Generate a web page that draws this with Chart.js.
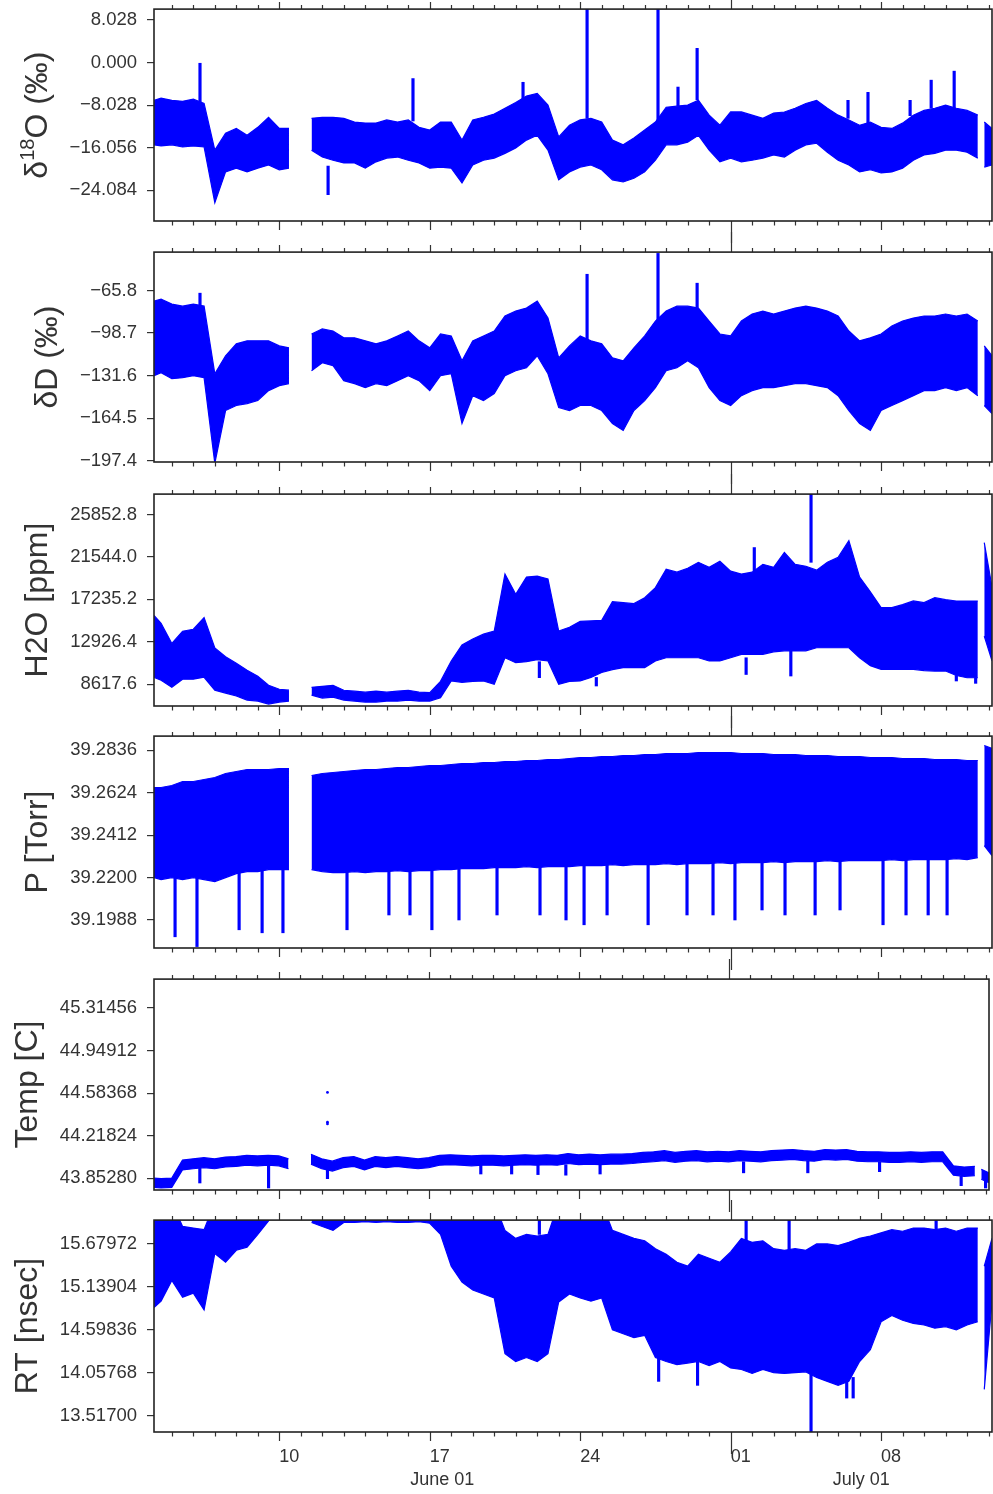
<!DOCTYPE html>
<html>
<head>
<meta charset="utf-8">
<script src="https://cdn.jsdelivr.net/npm/chart.js@4.4.1/dist/chart.umd.min.js"></script>
<style>
  html, body { margin: 0; padding: 0; background: #fff; }
  #figure { position: relative; width: 993px; height: 1494px; overflow: hidden; background: #fff; }
  #figure canvas { position: absolute; left: 0; }
</style>
</head>
<body>
<div id="figure"></div>
<script>
// ============ DATA ============
// time axis in days of June (June 10 = 10, July 1 = 31, July 8 = 38)
const X_MIN = 4.17;
const X_MAX = 43.16;
const weekTicks = [10, 17, 24, 31, 38];
const weekLabels = ["10", "17", "24", "01", "08"];
const monthStarts = [1, 31, 62];
const monthLabels = ["June 01", "July 01"];

// sample times of the upper / lower envelope of the dense point cloud (null = no data)
const days = [4.17, 4.5, 5, 5.5, 6, 6.5, 7, 7.5, 8, 8.5, 9, 9.5, 10,
  10.45, 10.9, 11.5,
  12, 12.5, 13, 13.5, 14, 14.5, 15, 15.5, 16, 16.5,
  17, 17.5, 18, 18.5, 19, 19.5, 20, 20.5, 21, 21.5,
  22, 22.5, 23, 23.5, 24, 24.5, 25, 25.5, 26, 26.5,
  27, 27.5, 28, 28.5, 29, 29.5, 30, 30.5, 31, 31.5,
  32, 32.5, 33, 33.5, 34, 34.5, 35, 35.5, 36, 36.5,
  37, 37.5, 38, 38.5, 39, 39.5, 40, 40.5, 41, 41.5,
  42, 42.5,
  42.65, 42.8, 43.16];

// d18O (permil)
const o18Ticks = [-24.084, -16.056, -8.028, 0, 8.028];
const o18Hi = [-7.1, -6.7, -7.1, -7.3, -6.9, -7.7, -16.5, -13.3, -12.4, -13.7, -12.2, -10.3, -12.4,
  -12.4, null, -10.5,
  -10.3, -10.3, -10.5, -11.2, -11.4, -11.4, -10.8, -11.2, -10.8, -12.2,
  -12.7, -11.2, -11.2, -14.6, -10.8, -10.3, -9.7, -8.6, -7.5, -6.3,
  -5.8, -8.0, -14.0, -11.8, -10.8, -10.5, -11.2, -14.6, -15.5, -14.2,
  -12.7, -11.2, -8.4, -8.2, -8.0, -7.1, -9.9, -11.8, -9.3, -9.3,
  -9.9, -10.5, -9.5, -9.3, -8.6, -7.7, -7.1, -8.6, -9.9, -10.8,
  -11.8, -11.2, -12.2, -12.4, -11.4, -9.9, -9.0, -8.6, -8.0, -8.6,
  -9.0, -9.9,
  null, -11.2, -12.4];
const o18Lo = [-15.5, -15.7, -15.5, -15.9, -15.7, -15.9, -26.4, -20.6, -19.9, -20.6, -19.9, -19.3, -20.2,
  -19.9, null, -16.5,
  -17.8, -18.4, -18.9, -18.9, -19.9, -18.7, -18.0, -17.8, -18.4, -18.9,
  -19.9, -19.7, -19.9, -22.7, -19.3, -18.4, -18.0, -17.1, -16.1, -14.6,
  -13.7, -16.5, -22.1, -20.6, -19.7, -19.3, -20.2, -22.1, -22.5, -21.8,
  -20.6, -18.4, -15.5, -15.5, -15.0, -13.7, -16.5, -18.7, -18.0, -18.7,
  -18.4, -18.0, -17.4, -17.8, -16.5, -15.5, -15.2, -16.9, -18.4, -19.3,
  -20.6, -20.2, -20.8, -20.6, -19.9, -18.4, -17.4, -17.1, -16.5, -16.5,
  -16.9, -18.0,
  null, -19.7, -19.3];
const o18SpikeDays = [6.31, 12.27, 16.22, 21.34, 24.32, 27.62, 28.55, 29.44, 36.46, 37.39, 39.35, 40.33, 41.40];
const o18SpikeBase = [-7.5, -19.5, -11.0, -7.0, -10.5, -11.0, -8.2, -7.0, -10.5, -11.5, -10.0, -8.6, -8.6];
const o18SpikeTip = [0.0, -24.9, -3.0, -3.7, 12.0, 12.0, -4.6, 2.7, -7.1, -5.6, -7.1, -3.3, -1.6];

// dD (permil)
const dTicks = [-197.4, -164.5, -131.6, -98.7, -65.8];
const dHi = [-74.0, -72.5, -76.3, -77.9, -76.3, -77.9, -130.1, -116.2, -107.0, -104.7, -104.7, -104.7, -108.6,
  -110.1, null, -99.4,
  -95.5, -97.1, -102.4, -102.4, -104.7, -107.0, -104.7, -100.9, -97.1, -104.7,
  -110.1, -99.4, -100.9, -120.1, -104.7, -100.9, -97.1, -85.5, -81.7, -79.4,
  -74.0, -87.1, -117.8, -108.6, -100.9, -104.7, -107.0, -117.8, -120.1, -110.1,
  -100.9, -89.4, -81.7, -77.9, -77.9, -79.4, -89.4, -99.4, -100.9, -89.4,
  -84.0, -81.7, -84.0, -81.7, -79.4, -77.9, -79.4, -81.7, -85.5, -97.1,
  -104.7, -102.4, -99.4, -93.2, -89.4, -87.1, -85.5, -85.5, -84.0, -85.5,
  -84.0, -89.4,
  null, -108.6, -116.2];
const dLo = [-131.6, -129.3, -133.9, -133.1, -131.6, -133.1, -199.2, -158.5, -154.6, -153.1, -150.8, -143.1, -139.3,
  -137.7, null, -127.8,
  -121.6, -123.9, -135.4, -137.7, -140.8, -137.7, -139.3, -135.4, -131.6, -135.4,
  -143.1, -131.6, -130.1, -168.5, -147.0, -150.8, -145.4, -131.6, -127.8, -125.5,
  -116.2, -130.1, -156.2, -158.5, -154.6, -154.6, -158.5, -168.5, -173.9, -158.5,
  -150.8, -140.8, -127.8, -125.5, -120.1, -125.5, -140.8, -150.8, -154.6, -147.0,
  -143.1, -140.8, -140.8, -139.3, -137.7, -137.7, -139.3, -140.8, -147.0, -158.5,
  -168.5, -173.9, -158.5, -154.6, -150.8, -147.0, -143.1, -143.1, -140.8, -143.1,
  -140.8, -147.0,
  null, -154.6, -160.8];
const dSpikeDays = [6.31, 24.32, 27.62, 29.44];
const dSpikeBase = [-77.0, -104.0, -90.0, -79.0];
const dSpikeTip = [-67.9, -53.3, -37.2, -60.2];

// H2O (ppm)
const h2oTicks = [8617.6, 12926.4, 17235.2, 21544.0, 25852.8];
const h2oHi = [15600, 14800, 12750, 14000, 14200, 15380, 12300, 11400, 10740, 10030, 9420, 8510, 8100,
  8010, null, 8300,
  8400, 8500, 8000, 7900, 7800, 7900, 7800, 7900, 8000, 7800,
  7750, 8900, 10970, 12600, 13200, 13700, 14020, 19800, 17750, 19500,
  19600, 19300, 14020, 14400, 15000, 15040, 15100, 17000, 16900, 16800,
  17400, 18430, 20300, 20000, 20400, 21000, 20500, 21100, 20100, 19800,
  20000, 20800, 20500, 22000, 20800, 20600, 20200, 21000, 21500, 23200,
  19500, 18000, 16400, 16400, 16700, 17070, 16900, 17400, 17200, 17070,
  17070, 17070,
  null, 23000, 18500];
const h2oLo = [9320, 9020, 8310, 9120, 9120, 9320, 8010, 7710, 7410, 7000, 6900, 6600, 6800,
  6900, null, 7500,
  7200, 7300, 7000, 6900, 6800, 6800, 6900, 6900, 7000, 6900,
  6900, 7240, 8940, 8800, 8900, 8940, 8600, 11300, 10800, 10900,
  11100, 10970, 8600, 8900, 8940, 9300, 9800, 10100, 10290, 10300,
  10300, 10970, 11300, 11300, 11300, 11300, 10970, 10970, 11300, 11650,
  11650, 11650, 11900, 12000, 11990, 12000, 12320, 12320, 12320, 12320,
  11300, 10500, 10120, 10120, 10120, 10120, 10000, 9950, 9950, 9500,
  9270, 9270,
  null, 13500, 11000];
const h2oSpikeDays = [34.74, 32.10, 22.10, 24.75, 31.72, 33.80, 41.50, 42.40];
const h2oSpikeBase = [21000, 20000, 10900, 9300, 11300, 12000, 9500, 9270];
const h2oSpikeTip = [28500, 22500, 9275, 8430, 9600, 9445, 8940, 8700];

// cavity pressure (Torr)
const pTicks = [39.1988, 39.2200, 39.2412, 39.2624, 39.2836];
const pHi = [39.2650, 39.2650, 39.2660, 39.2680, 39.2680, 39.2690, 39.2700, 39.2720, 39.2730, 39.2740, 39.2740, 39.2740, 39.2745,
  39.2745, null, 39.2710,
  39.2720, 39.2725, 39.2730, 39.2735, 39.2740, 39.2740, 39.2745, 39.2750, 39.2750, 39.2755,
  39.2760, 39.2760, 39.2765, 39.2770, 39.2770, 39.2775, 39.2775, 39.2780, 39.2780, 39.2785,
  39.2785, 39.2790, 39.2790, 39.2795, 39.2800, 39.2800, 39.2805, 39.2805, 39.2810, 39.2810,
  39.2815, 39.2815, 39.2820, 39.2820, 39.2820, 39.2825, 39.2825, 39.2825, 39.2825, 39.2820,
  39.2820, 39.2820, 39.2815, 39.2815, 39.2815, 39.2810, 39.2810, 39.2810, 39.2805, 39.2805,
  39.2805, 39.2800, 39.2800, 39.2800, 39.2795, 39.2795, 39.2795, 39.2790, 39.2790, 39.2790,
  39.2785, 39.2785,
  null, 39.2860, 39.2845];
const pLo = [39.2200, 39.2190, 39.2200, 39.2190, 39.2200, 39.2190, 39.2180, 39.2200, 39.2220, 39.2230, 39.2230, 39.2240, 39.2240,
  39.2240, null, 39.2240,
  39.2230, 39.2225, 39.2225, 39.2230, 39.2225, 39.2230, 39.2230, 39.2235, 39.2230, 39.2235,
  39.2235, 39.2240, 39.2240, 39.2245, 39.2245, 39.2245, 39.2250, 39.2250, 39.2250, 39.2255,
  39.2250, 39.2255, 39.2255, 39.2255, 39.2260, 39.2260, 39.2260, 39.2265, 39.2260, 39.2265,
  39.2265, 39.2265, 39.2270, 39.2265, 39.2270, 39.2270, 39.2270, 39.2275, 39.2270, 39.2275,
  39.2275, 39.2275, 39.2280, 39.2275, 39.2280, 39.2280, 39.2280, 39.2285, 39.2280, 39.2285,
  39.2285, 39.2285, 39.2285, 39.2290, 39.2285, 39.2290, 39.2290, 39.2290, 39.2290, 39.2295,
  39.2290, 39.2300,
  null, 39.2360, 39.2310];
const pSpikeDays = [5.15, 6.17, 8.13, 9.20, 10.17, 13.15, 15.10, 16.08, 17.10, 18.36, 20.13, 22.13, 23.34, 24.18,
  25.25, 27.16, 28.97, 30.18, 31.20, 32.46, 33.53, 34.93, 36.09, 38.09, 39.16, 40.19, 41.07];
const pSpikeBase = [39.2210, 39.2210, 39.2230, 39.2240, 39.2240, 39.2240, 39.2245, 39.2245, 39.2250, 39.2255, 39.2260, 39.2260, 39.2265, 39.2270,
  39.2270, 39.2275, 39.2280, 39.2280, 39.2280, 39.2285, 39.2285, 39.2290, 39.2290, 39.2295, 39.2295, 39.2300, 39.2300];
const pSpikeTip = [39.1904, 39.1855, 39.1939, 39.1924, 39.1924, 39.1939, 39.2013, 39.2013, 39.1939, 39.1988, 39.2013, 39.2013, 39.1988, 39.1964,
  39.2013, 39.1964, 39.2013, 39.2013, 39.1988, 39.2038, 39.2013, 39.2013, 39.2038, 39.1964, 39.2013, 39.2013, 39.2013];

// cavity temperature (C)
const tTicks = [43.8528, 44.21824, 44.58368, 44.94912, 45.31456];
const tHi = [43.855, 43.850, 43.855, 44.010, 44.020, 44.030, 44.020, 44.035, 44.040, 44.050, 44.045, 44.050, 44.045,
  44.020, null, 44.060,
  44.020, 44.000, 44.030, 44.040, 44.010, 44.040, 44.030, 44.040, 44.030, 44.020,
  44.030, 44.050, 44.055, 44.050, 44.045, 44.050, 44.050, 44.045, 44.050, 44.055,
  44.050, 44.055, 44.050, 44.065, 44.055, 44.060, 44.055, 44.060, 44.060, 44.065,
  44.075, 44.080, 44.090, 44.075, 44.085, 44.090, 44.080, 44.085, 44.080, 44.090,
  44.085, 44.080, 44.090, 44.095, 44.100, 44.090, 44.085, 44.100, 44.095, 44.100,
  44.085, 44.080, 44.080, 44.075, 44.075, 44.080, 44.075, 44.080, 44.080, 43.960,
  43.950, 43.955,
  null, 43.930, 43.900];
const tLo = [43.775, 43.770, 43.775, 43.925, 43.935, 43.945, 43.935, 43.950, 43.955, 43.965, 43.960, 43.965, 43.960,
  43.935, null, 43.975,
  43.935, 43.915, 43.945, 43.955, 43.925, 43.955, 43.945, 43.955, 43.945, 43.935,
  43.945, 43.965, 43.970, 43.965, 43.960, 43.965, 43.965, 43.960, 43.965, 43.970,
  43.965, 43.970, 43.965, 43.980, 43.970, 43.975, 43.970, 43.975, 43.975, 43.980,
  43.990, 43.995, 44.005, 43.990, 44.000, 44.005, 43.995, 44.000, 43.995, 44.005,
  44.000, 43.995, 44.005, 44.010, 44.015, 44.005, 44.000, 44.015, 44.010, 44.015,
  44.000, 43.995, 43.995, 43.990, 43.990, 43.995, 43.990, 43.995, 43.995, 43.880,
  43.870, 43.875,
  null, 43.845, 43.815];
const tSpikeDays = [6.31, 9.52, 12.27, 19.43, 20.87, 22.10, 23.40, 25.00, 31.70, 34.70, 38.05, 41.86, 43.00];
const tSpikeBase = [43.950, 43.960, 43.930, 43.965, 43.965, 43.965, 43.970, 43.970, 43.995, 44.000, 43.990, 43.870, 43.830];
const tSpikeTip = [43.813, 43.770, 43.850, 43.890, 43.890, 43.885, 43.880, 43.890, 43.900, 43.900, 43.910, 43.790, 43.770];
const tOutlierDays = [12.27, 12.27, 12.27];
const tOutlierVals = [44.590, 44.335, 44.320];

// ring-down time (nsec)
const rtTicks = [13.517, 14.05768, 14.59836, 15.13904, 15.67972];
const rtHi = [16.2, 16.2, 16.2, 15.90, 15.88, 15.86, 16.2, 16.2, 16.2, 16.2, 16.2, 16.2, 16.2,
  16.2, null, 16.2,
  16.2, 16.2, 16.2, 16.2, 16.2, 16.2, 16.2, 16.2, 16.2, 16.2,
  16.2, 16.2, 16.2, 16.2, 16.2, 16.2, 16.2, 15.85, 15.75, 15.80,
  15.78, 15.80, 16.2, 16.2, 16.2, 16.2, 16.2, 15.85, 15.80, 15.75,
  15.72, 15.62, 15.55, 15.45, 15.40, 15.55, 15.50, 15.45, 15.58, 15.75,
  15.70, 15.72, 15.62, 15.60, 15.62, 15.60, 15.68, 15.68, 15.66, 15.70,
  15.75, 15.78, 15.82, 15.86, 15.84, 15.88, 15.88, 15.86, 15.88, 15.84,
  15.88, 15.88,
  null, 15.40, 15.75];
const rtLo = [14.88, 14.96, 15.22, 15.01, 15.06, 14.85, 15.56, 15.45, 15.60, 15.64, 15.80, 15.97, 16.1,
  16.1, null, 15.95,
  15.90, 15.85, 15.95, 15.95, 15.96, 15.95, 15.96, 15.95, 15.95, 15.96,
  15.94, 15.80, 15.40, 15.20, 15.10, 15.05, 15.00, 14.30, 14.20, 14.25,
  14.20, 14.30, 14.95, 15.05, 15.00, 14.96, 15.00, 14.60, 14.55, 14.50,
  14.53, 14.25, 14.20, 14.16, 14.18, 14.20, 14.15, 14.20, 14.12, 14.10,
  14.05, 14.10, 14.06, 14.05, 14.06, 14.07, 14.00, 13.95, 13.90, 13.95,
  14.20, 14.35, 14.70, 14.78, 14.72, 14.68, 14.66, 14.62, 14.64, 14.60,
  14.66, 14.70,
  null, 13.85, 14.95];
const rtSpikeDays = [34.74, 36.40, 36.70, 27.65, 29.46, 31.72, 33.72, 40.56, 22.10];
const rtSpikeBase = [14.10, 14.00, 14.00, 14.30, 14.20, 15.60, 15.60, 15.85, 15.80];
const rtSpikeTip = [13.20, 13.74, 13.74, 13.95, 13.90, 16.20, 16.20, 16.20, 16.20];

// ============ STYLE ============
const FONT = '"Liberation Sans", Arial, Helvetica, sans-serif';
const INK = "#333";
const BLUE = "#0000ff";

Chart.defaults.font.family = FONT;
Chart.defaults.color = INK;

const PANELS = [
  { title: [{ text: "δ" }, { text: "18", sup: true }, { text: "O (‰)" }], hi: o18Hi, lo: o18Lo, ticks: o18Ticks, digits: 3,
    min: -29.86, max: 10.1, spikes: [o18SpikeDays, o18SpikeBase, o18SpikeTip], top: 8, height: 213 },
  { title: [{ text: "δD (‰)" }], hi: dHi, lo: dLo, ticks: dTicks, digits: 1,
    min: -198.2, max: -36.2, spikes: [dSpikeDays, dSpikeBase, dSpikeTip], top: 251, height: 211 },
  { title: [{ text: "H2O [ppm]" }], hi: h2oHi, lo: h2oLo, ticks: h2oTicks, digits: 1,
    min: 6398, max: 27932, spikes: [h2oSpikeDays, h2oSpikeBase, h2oSpikeTip], top: 493, height: 213 },
  { title: [{ text: "P [Torr]" }], hi: pHi, lo: pLo, ticks: pTicks, digits: 4,
    min: 39.1848, max: 39.2907, spikes: [pSpikeDays, pSpikeBase, pSpikeTip], top: 735, height: 213 },
  { title: [{ text: "Temp [C]" }], hi: tHi, lo: tLo, ticks: tTicks, digits: 5,
    min: 43.7528, max: 45.5625, spikes: [tSpikeDays, tSpikeBase, tSpikeTip], outliers: [tOutlierDays, tOutlierVals], top: 978, height: 212 },
  { title: [{ text: "RT [nsec]" }], hi: rtHi, lo: rtLo, ticks: rtTicks, digits: 5,
    min: 13.313, max: 15.98, spikes: [rtSpikeDays, rtSpikeBase, rtSpikeTip], top: 1219, height: 213 }
];

// ============ UTILS ============
function fmt(v, digits) {
  return (v < 0 ? "\u2212" : "") + Math.abs(v).toFixed(digits);
}

function drawTitle(ctx, parts, xBase, yMid) {
  const big = "32px " + FONT, small = "20px " + FONT;
  const widths = parts.map(p => { ctx.font = p.sup ? small : big; return ctx.measureText(p.text).width; });
  const total = widths.reduce((s, w) => s + w, 0);
  ctx.save();
  ctx.translate(xBase, yMid);
  ctx.rotate(-Math.PI / 2);
  ctx.fillStyle = INK;
  ctx.textAlign = "left";
  ctx.textBaseline = "alphabetic";
  let cx = -total / 2;
  parts.forEach((p, i) => {
    ctx.font = p.sup ? small : big;
    ctx.fillText(p.text, cx, p.sup ? -13 : 0);
    cx += widths[i];
  });
  ctx.restore();
}

// frame, day ticks top and bottom, y title, month labels
const framePlugin = {
  id: "frame",
  afterDraw(chart, args, opts) {
    const { ctx, chartArea: a, scales: { x, y } } = chart;
    ctx.save();

    ctx.font = "18.5px " + FONT;
    const maxW = Math.max(...y.ticks.map(t => ctx.measureText(t.label).width));
    drawTitle(ctx, opts.title, a.left - 7 - 10 - maxW - 23, (a.top + a.bottom) / 2);

    ctx.strokeStyle = INK;
    ctx.lineWidth = 1.2;
    for (let d = Math.ceil(x.min); d <= x.max; d++) {
      const px = Math.round(x.getPixelForValue(d)) + 0.5;
      const isMonth = monthStarts.includes(d), isWeek = weekTicks.includes(d);
      const down = isMonth ? 22 : isWeek ? 9 : 4.5;
      const up = isMonth ? 20 : isWeek ? 7 : 4;
      ctx.beginPath();
      ctx.moveTo(px, a.bottom); ctx.lineTo(px, a.bottom + down);
      ctx.moveTo(px, a.top); ctx.lineTo(px, a.top - up);
      ctx.stroke();
    }

    ctx.strokeStyle = "#222";
    ctx.lineWidth = 1.6;
    ctx.strokeRect(a.left, a.top, a.right - a.left, a.bottom - a.top);

    if (opts.months) {
      ctx.font = "18px " + FONT;
      ctx.fillStyle = INK;
      ctx.textAlign = "center";
      ctx.textBaseline = "middle";
      monthLabels.forEach((lab, i) => {
        const lo = Math.max(x.min, monthStarts[i]), hi = Math.min(x.max, monthStarts[i + 1]);
        if (hi > lo) ctx.fillText(lab, x.getPixelForValue((lo + hi) / 2), a.bottom + 48);
      });
    }
    ctx.restore();
  }
};

// ============ RENDER ============
const fig = document.getElementById("figure");

PANELS.forEach((p, i) => {
  const last = i === PANELS.length - 1;
  const padTop = 20;
  const axisH = last ? 52 : 0;
  const padBottom = last ? 1494 - (p.top + p.height) - axisH : 30;

  const cv = document.createElement("canvas");
  cv.width = 993;
  cv.height = padTop + p.height + axisH + padBottom;
  cv.style.top = (p.top - padTop) + "px";
  fig.appendChild(cv);

  const datasets = [
    { type: "line", data: days.map((d, k) => ({ x: d, y: p.lo[k] })), borderColor: BLUE, borderWidth: 1.2,
      pointRadius: 0, fill: false, spanGaps: false, tension: 0 },
    { type: "line", data: days.map((d, k) => ({ x: d, y: p.hi[k] })), borderColor: BLUE, borderWidth: 1.2,
      backgroundColor: BLUE, pointRadius: 0, fill: "-1", spanGaps: false, tension: 0 },
    { type: "bar", data: p.spikes[0].map((d, k) => ({ x: d, y: [p.spikes[1][k], p.spikes[2][k]] })),
      backgroundColor: BLUE, borderWidth: 0, barThickness: 2.5, grouped: false }
  ];
  if (p.outliers) {
    datasets.push({ type: "scatter", data: p.outliers[0].map((d, k) => ({ x: d, y: p.outliers[1][k] })),
      backgroundColor: BLUE, borderColor: BLUE, pointRadius: 1.4, pointBorderWidth: 0 });
  }

  new Chart(cv, {
    type: "line",
    data: { datasets },
    plugins: [framePlugin],
    options: {
      responsive: false,
      maintainAspectRatio: false,
      devicePixelRatio: 1,
      animation: false,
      events: [],
      layout: { padding: { top: padTop, bottom: padBottom, left: 0, right: 1 } },
      plugins: {
        legend: { display: false },
        tooltip: { enabled: false },
        frame: { title: p.title, months: last }
      },
      scales: {
        x: {
          type: "linear", min: X_MIN, max: X_MAX, offset: false, display: last,
          afterBuildTicks: ax => { ax.ticks = weekTicks.map(v => ({ value: v })); },
          afterFit: ax => { ax.height = axisH; },
          grid: { display: false, drawTicks: false },
          border: { display: false },
          ticks: {
            autoSkip: false, maxRotation: 0, align: "start", padding: 14,
            font: { size: 18 }, color: INK,
            callback: v => weekLabels[weekTicks.indexOf(v)]
          }
        },
        y: {
          type: "linear", min: p.min, max: p.max,
          afterBuildTicks: ax => { ax.ticks = p.ticks.map(v => ({ value: v })); },
          afterFit: ax => { ax.width = 154; },
          grid: { drawOnChartArea: false, drawTicks: true, tickLength: 7, color: INK, lineWidth: 1.2 },
          border: { display: false },
          ticks: { autoSkip: false, padding: 10, font: { size: 18.5 }, color: INK, callback: v => fmt(v, p.digits) }
        }
      }
    }
  });
});
</script>
</body>
</html>
